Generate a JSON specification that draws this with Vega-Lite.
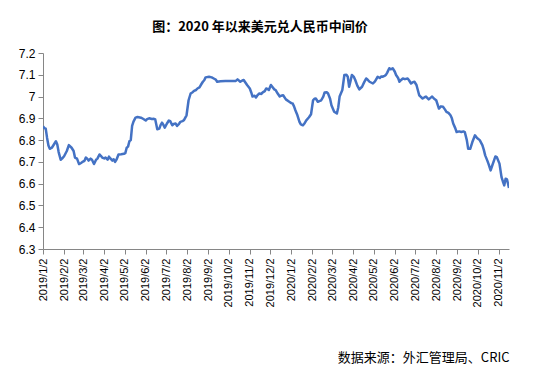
{
  "$schema": "https://vega.github.io/schema/vega-lite/v6.json",
  "autosize": {"type": "none"},
  "width": 466,
  "height": 196,
  "padding": {"left": 43, "top": 53, "right": 26, "bottom": 125},
  "background": "white",
  "title": {
    "text": "图：2020 年以来美元兑人民币中间价",
    "font": "Noto Sans CJK SC",
    "fontSize": 13,
    "fontWeight": "bold",
    "color": "#000000",
    "anchor": "middle",
    "frame": "group",
    "dx": -16,
    "offset": 13
  },
  "data": {
    "values": [
      {"date": "2019-01-02", "rate": 6.863}, {"date": "2019-01-04", "rate": 6.855}, {"date": "2019-01-06", "rate": 6.853},
      {"date": "2019-01-08", "rate": 6.81}, {"date": "2019-01-10", "rate": 6.775}, {"date": "2019-01-12", "rate": 6.76},
      {"date": "2019-01-15", "rate": 6.765}, {"date": "2019-01-18", "rate": 6.78}, {"date": "2019-01-21", "rate": 6.795},
      {"date": "2019-01-23", "rate": 6.78}, {"date": "2019-01-25", "rate": 6.745}, {"date": "2019-01-28", "rate": 6.71},
      {"date": "2019-01-30", "rate": 6.715}, {"date": "2019-02-02", "rate": 6.726}, {"date": "2019-02-06", "rate": 6.75},
      {"date": "2019-02-09", "rate": 6.777}, {"date": "2019-02-13", "rate": 6.765}, {"date": "2019-02-16", "rate": 6.75},
      {"date": "2019-02-18", "rate": 6.72}, {"date": "2019-02-21", "rate": 6.715}, {"date": "2019-02-24", "rate": 6.69},
      {"date": "2019-02-27", "rate": 6.695}, {"date": "2019-03-01", "rate": 6.70}, {"date": "2019-03-04", "rate": 6.705},
      {"date": "2019-03-06", "rate": 6.72}, {"date": "2019-03-08", "rate": 6.715}, {"date": "2019-03-10", "rate": 6.706},
      {"date": "2019-03-13", "rate": 6.715}, {"date": "2019-03-15", "rate": 6.71}, {"date": "2019-03-18", "rate": 6.69},
      {"date": "2019-03-21", "rate": 6.71}, {"date": "2019-03-23", "rate": 6.715}, {"date": "2019-03-26", "rate": 6.734},
      {"date": "2019-03-28", "rate": 6.728}, {"date": "2019-03-30", "rate": 6.72}, {"date": "2019-04-02", "rate": 6.716},
      {"date": "2019-04-04", "rate": 6.72}, {"date": "2019-04-07", "rate": 6.71}, {"date": "2019-04-09", "rate": 6.724},
      {"date": "2019-04-11", "rate": 6.716}, {"date": "2019-04-14", "rate": 6.706}, {"date": "2019-04-16", "rate": 6.712},
      {"date": "2019-04-18", "rate": 6.70}, {"date": "2019-04-20", "rate": 6.71}, {"date": "2019-04-23", "rate": 6.734},
      {"date": "2019-04-27", "rate": 6.735}, {"date": "2019-05-01", "rate": 6.737}, {"date": "2019-05-03", "rate": 6.74},
      {"date": "2019-05-05", "rate": 6.765}, {"date": "2019-05-07", "rate": 6.77}, {"date": "2019-05-09", "rate": 6.795},
      {"date": "2019-05-11", "rate": 6.80}, {"date": "2019-05-13", "rate": 6.865}, {"date": "2019-05-15", "rate": 6.885},
      {"date": "2019-05-18", "rate": 6.903}, {"date": "2019-05-21", "rate": 6.906}, {"date": "2019-05-26", "rate": 6.903},
      {"date": "2019-05-29", "rate": 6.898}, {"date": "2019-06-02", "rate": 6.89}, {"date": "2019-06-04", "rate": 6.896},
      {"date": "2019-06-07", "rate": 6.90}, {"date": "2019-06-11", "rate": 6.897}, {"date": "2019-06-14", "rate": 6.898},
      {"date": "2019-06-16", "rate": 6.895}, {"date": "2019-06-19", "rate": 6.85}, {"date": "2019-06-22", "rate": 6.853},
      {"date": "2019-06-24", "rate": 6.87}, {"date": "2019-06-26", "rate": 6.88}, {"date": "2019-06-28", "rate": 6.87},
      {"date": "2019-06-30", "rate": 6.857}, {"date": "2019-07-03", "rate": 6.875}, {"date": "2019-07-06", "rate": 6.89},
      {"date": "2019-07-08", "rate": 6.887}, {"date": "2019-07-11", "rate": 6.868}, {"date": "2019-07-13", "rate": 6.874},
      {"date": "2019-07-16", "rate": 6.876}, {"date": "2019-07-18", "rate": 6.865}, {"date": "2019-07-21", "rate": 6.875},
      {"date": "2019-07-23", "rate": 6.884}, {"date": "2019-07-26", "rate": 6.887}, {"date": "2019-07-28", "rate": 6.891},
      {"date": "2019-08-01", "rate": 6.914}, {"date": "2019-08-04", "rate": 6.983}, {"date": "2019-08-07", "rate": 7.014},
      {"date": "2019-08-10", "rate": 7.02}, {"date": "2019-08-12", "rate": 7.026}, {"date": "2019-08-15", "rate": 7.03},
      {"date": "2019-08-17", "rate": 7.037}, {"date": "2019-08-20", "rate": 7.042}, {"date": "2019-08-22", "rate": 7.053},
      {"date": "2019-08-25", "rate": 7.068}, {"date": "2019-08-27", "rate": 7.075}, {"date": "2019-08-29", "rate": 7.088},
      {"date": "2019-09-03", "rate": 7.091}, {"date": "2019-09-07", "rate": 7.088}, {"date": "2019-09-10", "rate": 7.083},
      {"date": "2019-09-13", "rate": 7.078}, {"date": "2019-09-15", "rate": 7.068}, {"date": "2019-09-20", "rate": 7.07},
      {"date": "2019-09-27", "rate": 7.071}, {"date": "2019-10-05", "rate": 7.071}, {"date": "2019-10-12", "rate": 7.071},
      {"date": "2019-10-15", "rate": 7.079}, {"date": "2019-10-19", "rate": 7.068}, {"date": "2019-10-22", "rate": 7.074},
      {"date": "2019-10-24", "rate": 7.076}, {"date": "2019-10-27", "rate": 7.062}, {"date": "2019-10-29", "rate": 7.053},
      {"date": "2019-11-02", "rate": 7.037}, {"date": "2019-11-04", "rate": 7.02}, {"date": "2019-11-06", "rate": 7.0},
      {"date": "2019-11-09", "rate": 7.004}, {"date": "2019-11-11", "rate": 6.996}, {"date": "2019-11-13", "rate": 7.005},
      {"date": "2019-11-16", "rate": 7.014}, {"date": "2019-11-19", "rate": 7.012}, {"date": "2019-11-21", "rate": 7.019},
      {"date": "2019-11-24", "rate": 7.025}, {"date": "2019-11-26", "rate": 7.037}, {"date": "2019-11-28", "rate": 7.035},
      {"date": "2019-11-30", "rate": 7.03}, {"date": "2019-12-03", "rate": 7.053}, {"date": "2019-12-05", "rate": 7.045},
      {"date": "2019-12-08", "rate": 7.033}, {"date": "2019-12-10", "rate": 7.03}, {"date": "2019-12-13", "rate": 7.014},
      {"date": "2019-12-16", "rate": 7.0}, {"date": "2019-12-18", "rate": 7.004}, {"date": "2019-12-21", "rate": 7.006},
      {"date": "2019-12-25", "rate": 6.987}, {"date": "2019-12-30", "rate": 6.976}, {"date": "2020-01-02", "rate": 6.97},
      {"date": "2020-01-04", "rate": 6.968}, {"date": "2020-01-06", "rate": 6.955}, {"date": "2020-01-08", "rate": 6.937},
      {"date": "2020-01-11", "rate": 6.914}, {"date": "2020-01-14", "rate": 6.884}, {"date": "2020-01-16", "rate": 6.872},
      {"date": "2020-01-19", "rate": 6.868}, {"date": "2020-01-21", "rate": 6.875}, {"date": "2020-01-24", "rate": 6.891},
      {"date": "2020-01-28", "rate": 6.905}, {"date": "2020-01-31", "rate": 6.919}, {"date": "2020-02-03", "rate": 6.983},
      {"date": "2020-02-05", "rate": 6.99}, {"date": "2020-02-07", "rate": 6.991}, {"date": "2020-02-10", "rate": 6.976},
      {"date": "2020-02-13", "rate": 6.98}, {"date": "2020-02-15", "rate": 6.983}, {"date": "2020-02-18", "rate": 7.0},
      {"date": "2020-02-20", "rate": 7.019}, {"date": "2020-02-23", "rate": 7.02}, {"date": "2020-02-25", "rate": 7.014},
      {"date": "2020-02-28", "rate": 6.99}, {"date": "2020-03-01", "rate": 6.96}, {"date": "2020-03-05", "rate": 6.93},
      {"date": "2020-03-09", "rate": 6.922}, {"date": "2020-03-11", "rate": 6.95}, {"date": "2020-03-13", "rate": 7.0},
      {"date": "2020-03-17", "rate": 7.03}, {"date": "2020-03-20", "rate": 7.099}, {"date": "2020-03-23", "rate": 7.1},
      {"date": "2020-03-25", "rate": 7.091}, {"date": "2020-03-27", "rate": 7.045}, {"date": "2020-03-29", "rate": 7.07},
      {"date": "2020-03-31", "rate": 7.099}, {"date": "2020-04-03", "rate": 7.09}, {"date": "2020-04-05", "rate": 7.076},
      {"date": "2020-04-08", "rate": 7.05}, {"date": "2020-04-11", "rate": 7.033}, {"date": "2020-04-15", "rate": 7.045},
      {"date": "2020-04-18", "rate": 7.065}, {"date": "2020-04-21", "rate": 7.083}, {"date": "2020-04-23", "rate": 7.078},
      {"date": "2020-04-26", "rate": 7.068}, {"date": "2020-05-01", "rate": 7.06}, {"date": "2020-05-04", "rate": 7.07},
      {"date": "2020-05-08", "rate": 7.091}, {"date": "2020-05-11", "rate": 7.085}, {"date": "2020-05-13", "rate": 7.092},
      {"date": "2020-05-15", "rate": 7.091}, {"date": "2020-05-18", "rate": 7.095}, {"date": "2020-05-20", "rate": 7.099},
      {"date": "2020-05-22", "rate": 7.11}, {"date": "2020-05-25", "rate": 7.13}, {"date": "2020-05-27", "rate": 7.125},
      {"date": "2020-05-30", "rate": 7.13}, {"date": "2020-06-02", "rate": 7.115}, {"date": "2020-06-04", "rate": 7.099},
      {"date": "2020-06-07", "rate": 7.085}, {"date": "2020-06-09", "rate": 7.068}, {"date": "2020-06-11", "rate": 7.075},
      {"date": "2020-06-14", "rate": 7.083}, {"date": "2020-06-17", "rate": 7.08}, {"date": "2020-06-21", "rate": 7.083},
      {"date": "2020-06-23", "rate": 7.075}, {"date": "2020-06-26", "rate": 7.06}, {"date": "2020-06-28", "rate": 7.065},
      {"date": "2020-07-01", "rate": 7.068}, {"date": "2020-07-04", "rate": 7.053}, {"date": "2020-07-08", "rate": 7.006},
      {"date": "2020-07-10", "rate": 7.0}, {"date": "2020-07-13", "rate": 6.991}, {"date": "2020-07-16", "rate": 6.997},
      {"date": "2020-07-18", "rate": 7.0}, {"date": "2020-07-22", "rate": 6.987}, {"date": "2020-07-25", "rate": 6.995},
      {"date": "2020-07-27", "rate": 7.0}, {"date": "2020-07-30", "rate": 6.99}, {"date": "2020-08-02", "rate": 6.983},
      {"date": "2020-08-06", "rate": 6.945}, {"date": "2020-08-09", "rate": 6.955}, {"date": "2020-08-12", "rate": 6.953},
      {"date": "2020-08-15", "rate": 6.94}, {"date": "2020-08-17", "rate": 6.93}, {"date": "2020-08-20", "rate": 6.925},
      {"date": "2020-08-23", "rate": 6.914}, {"date": "2020-08-25", "rate": 6.9}, {"date": "2020-08-27", "rate": 6.876},
      {"date": "2020-08-30", "rate": 6.855}, {"date": "2020-09-01", "rate": 6.837}, {"date": "2020-09-05", "rate": 6.84},
      {"date": "2020-09-08", "rate": 6.837}, {"date": "2020-09-11", "rate": 6.84}, {"date": "2020-09-13", "rate": 6.837},
      {"date": "2020-09-16", "rate": 6.80}, {"date": "2020-09-18", "rate": 6.76}, {"date": "2020-09-21", "rate": 6.76},
      {"date": "2020-09-24", "rate": 6.79}, {"date": "2020-09-28", "rate": 6.822}, {"date": "2020-10-01", "rate": 6.81},
      {"date": "2020-10-05", "rate": 6.80}, {"date": "2020-10-09", "rate": 6.776}, {"date": "2020-10-11", "rate": 6.755},
      {"date": "2020-10-13", "rate": 6.73}, {"date": "2020-10-16", "rate": 6.707}, {"date": "2020-10-18", "rate": 6.69},
      {"date": "2020-10-21", "rate": 6.661}, {"date": "2020-10-23", "rate": 6.68}, {"date": "2020-10-26", "rate": 6.707},
      {"date": "2020-10-28", "rate": 6.725}, {"date": "2020-10-30", "rate": 6.722}, {"date": "2020-11-03", "rate": 6.692},
      {"date": "2020-11-06", "rate": 6.63}, {"date": "2020-11-08", "rate": 6.61}, {"date": "2020-11-10", "rate": 6.592},
      {"date": "2020-11-12", "rate": 6.623}, {"date": "2020-11-14", "rate": 6.62}, {"date": "2020-11-17", "rate": 6.58}
    ]
  },
  "mark": {"type": "line", "color": "#4472C4", "strokeWidth": 2.5, "strokeJoin": "round", "clip": true},
  "encoding": {
    "x": {
      "field": "date",
      "type": "temporal",
      "scale": {
        "type": "utc",
        "domain": [
          {"year": 2019, "month": 1, "date": 2, "utc": true},
          {"year": 2020, "month": 11, "date": 17, "utc": true}
        ]
      },
      "axis": {
        "values": [
          {"year": 2019, "month": 1, "date": 2, "utc": true},
          {"year": 2019, "month": 2, "date": 2, "utc": true},
          {"year": 2019, "month": 3, "date": 2, "utc": true},
          {"year": 2019, "month": 4, "date": 2, "utc": true},
          {"year": 2019, "month": 5, "date": 2, "utc": true},
          {"year": 2019, "month": 6, "date": 2, "utc": true},
          {"year": 2019, "month": 7, "date": 2, "utc": true},
          {"year": 2019, "month": 8, "date": 2, "utc": true},
          {"year": 2019, "month": 9, "date": 2, "utc": true},
          {"year": 2019, "month": 10, "date": 2, "utc": true},
          {"year": 2019, "month": 11, "date": 2, "utc": true},
          {"year": 2019, "month": 12, "date": 2, "utc": true},
          {"year": 2020, "month": 1, "date": 2, "utc": true},
          {"year": 2020, "month": 2, "date": 2, "utc": true},
          {"year": 2020, "month": 3, "date": 2, "utc": true},
          {"year": 2020, "month": 4, "date": 2, "utc": true},
          {"year": 2020, "month": 5, "date": 2, "utc": true},
          {"year": 2020, "month": 6, "date": 2, "utc": true},
          {"year": 2020, "month": 7, "date": 2, "utc": true},
          {"year": 2020, "month": 8, "date": 2, "utc": true},
          {"year": 2020, "month": 9, "date": 2, "utc": true},
          {"year": 2020, "month": 10, "date": 2, "utc": true},
          {"year": 2020, "month": 11, "date": 2, "utc": true}
        ],
        "format": "%Y/%-m/%-d",
        "labelAngle": 270,
        "labelFont": "Liberation Sans",
        "labelFontSize": 11,
        "labelColor": "#000000",
        "labelPadding": 4,
        "labelOverlap": false,
        "labelFlush": false,
        "grid": false,
        "domainColor": "#868686",
        "tickColor": "#868686",
        "tickSize": 5,
        "title": "数据来源：外汇管理局、CRIC",
        "titleFont": "Noto Sans CJK SC",
        "titleFontSize": 13,
        "titleFontWeight": "normal",
        "titleColor": "#000000",
        "titleAnchor": "end",
        "titleAlign": "right",
        "titlePadding": 45
      }
    },
    "y": {
      "field": "rate",
      "type": "quantitative",
      "scale": {"domain": [6.3, 7.2], "nice": false, "zero": false},
      "axis": {
        "values": [6.3, 6.4, 6.5, 6.6, 6.7, 6.8, 6.9, 7.0, 7.1, 7.2],
        "format": "~g",
        "labelFont": "Liberation Sans",
        "labelFontSize": 12,
        "labelColor": "#000000",
        "labelPadding": 3,
        "grid": false,
        "domainColor": "#868686",
        "tickColor": "#868686",
        "tickSize": 5,
        "title": null
      }
    }
  },
  "config": {"view": {"stroke": null}}
}
